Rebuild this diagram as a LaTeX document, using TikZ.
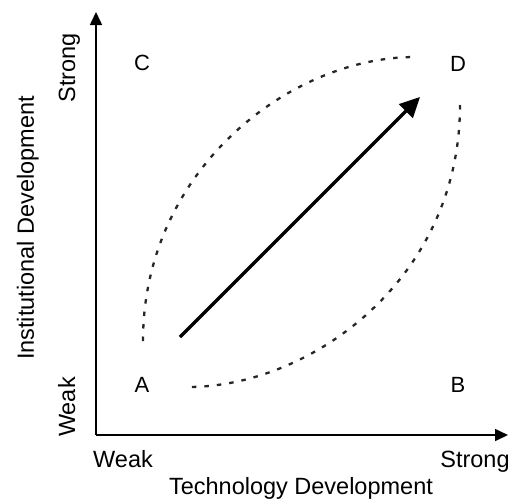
\documentclass[tikz,border=0pt]{standalone}
\usepackage{fontspec}
\setmainfont{Liberation Sans}
\usetikzlibrary{arrows.meta}
\begin{document}
\begin{tikzpicture}[x=1pt,y=-1pt,
  axis/.style={line width=1.6pt,-{Triangle[length=13pt,width=12pt]}},
  trend/.style={line width=3.4pt,-{Triangle[length=20pt,width=19pt]}},
  path/.style={line width=2.3pt,black!85,dash pattern=on 4.5pt off 8pt},
  lbl/.style={inner sep=0pt,anchor=base,font=\fontsize{23.5}{28}\selectfont},
  corner/.style={inner sep=0pt,font=\fontsize{22}{26}\selectfont}]
\useasboundingbox (0,0) rectangle (512,501);

% axes
\coordinate (origin) at (96,435);
\coordinate (ytip) at (96,12);
\coordinate (xtip) at (508,435);
\draw[axis] (origin) -- (ytip);
\draw[axis] (origin) -- (xtip);

% axis labels
\node[lbl] (xweak) at (123,467) {Weak};
\node[lbl] (xstrong) at (475,467) {Strong};
\node[lbl] (xtitle) at (301,494) {Technology Development};
\node[lbl,rotate=90] (ystrong) at (75,68) {Strong};
\node[lbl,rotate=90] (yweak) at (75,407) {Weak};
\node[lbl,rotate=90] (ytitle) at (34,228) {Institutional Development};

% quadrant letters
\node[corner] (C) at (142,63) {C};
\node[corner] (D) at (458,64) {D};
\node[corner] (A) at (142,385) {A};
\node[corner] (B) at (458,385) {B};

% development paths
\coordinate (a1) at (143,341);
\coordinate (d1) at (415,57);
\coordinate (d2) at (460,105);
\coordinate (a2) at (188,387);
\draw[path] (a1) .. controls (143,170) and (290,57) .. (d1);
\draw[path] (d2) .. controls (460,280) and (310,387) .. (a2);

% direct path from A to D
\coordinate (s) at (180,337);
\coordinate (e) at (420,97);
\draw[trend] (s) -- (e);
\end{tikzpicture}
\end{document}
